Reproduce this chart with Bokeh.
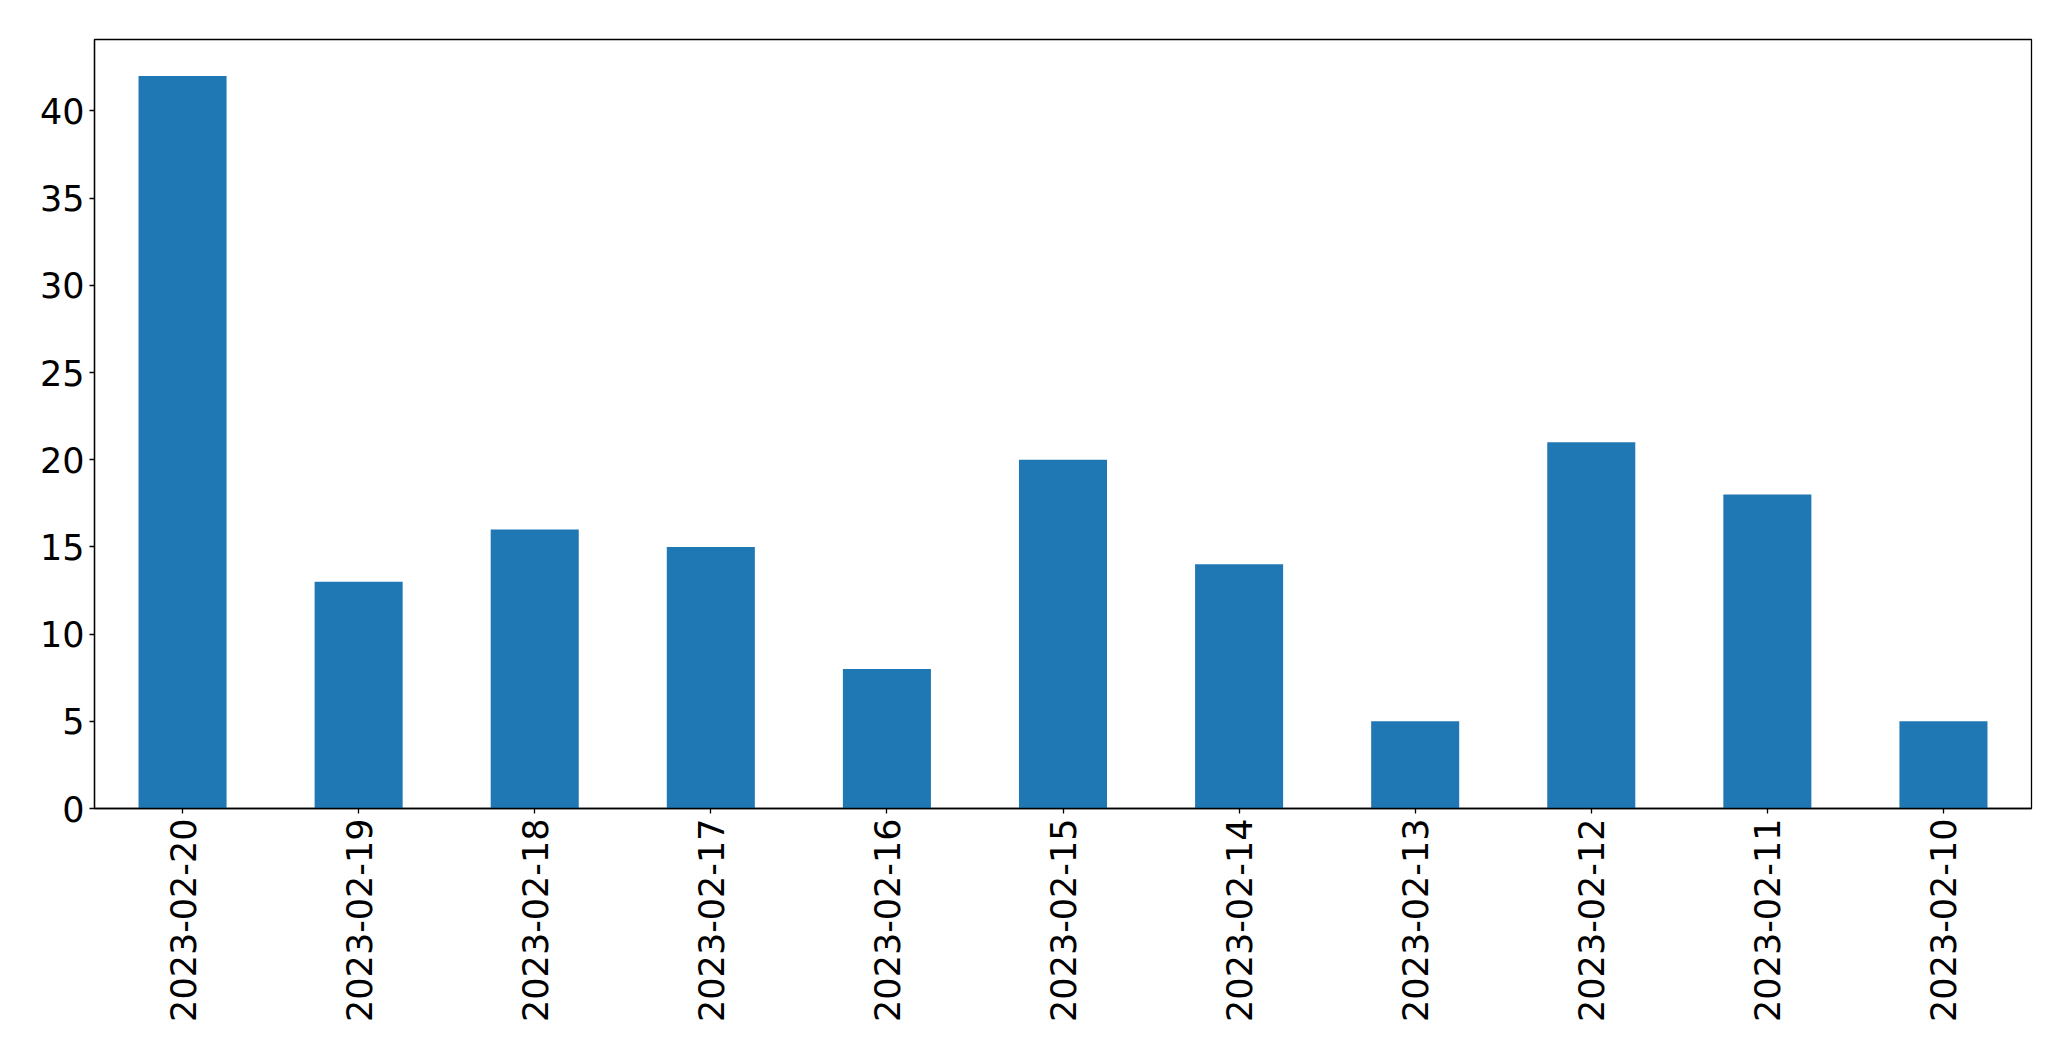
import math
from bokeh.plotting import figure
from bokeh.models import FactorRange, Range1d, FixedTicker, ColumnDataSource
from bokeh.embed import file_html
from bokeh.resources import INLINE

dates = ["2023-02-20", "2023-02-19", "2023-02-18", "2023-02-17", "2023-02-16",
         "2023-02-15", "2023-02-14", "2023-02-13", "2023-02-12", "2023-02-11",
         "2023-02-10"]
counts = [42, 13, 16, 15, 8, 20, 14, 5, 21, 18, 5]
y_ticks = [0, 5, 10, 15, 20, 25, 30, 35, 40]

src = ColumnDataSource(dict(date=dates, count=counts))

p = figure(x_range=FactorRange(*dates), y_range=Range1d(0, 44.1),
           width=2062, height=1052,
           frame_width=1937, frame_height=769,
           min_border_left=94, min_border_top=39, min_border_right=31,
           min_border_bottom=244,
           output_backend="svg", toolbar_location=None)

p.vbar(x="date", top="count", width=0.5, source=src,
       fill_color="#1f77b4", line_color=None)

p.outline_line_color = "black"
p.outline_line_width = 1.3
p.grid.visible = False
p.background_fill_color = "white"
p.border_fill_color = "white"

for ax in (p.xaxis[0], p.yaxis[0]):
    ax.axis_line_color = "black"
    ax.axis_line_width = 1.3
    ax.major_tick_line_color = "black"
    ax.major_tick_line_width = 1.3
    ax.major_tick_out = 5
    ax.major_tick_in = 0
    ax.minor_tick_line_color = None
    ax.major_label_text_font = "DejaVu Sans"
    ax.major_label_text_font_size = "35px"
    ax.major_label_text_color = "black"
    ax.major_label_standoff = 5

p.yaxis[0].ticker = FixedTicker(ticks=y_ticks)
p.xaxis[0].major_label_orientation = math.pi / 2
p.xaxis[0].group_text_font_size = "0px"

open("out.html", "w").write(file_html(p, INLINE))
